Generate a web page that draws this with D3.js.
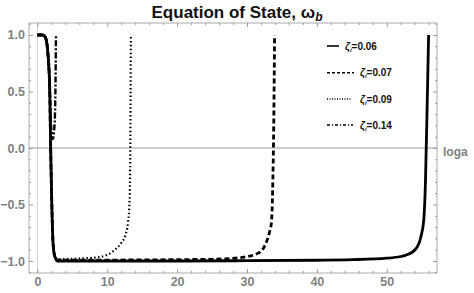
<!DOCTYPE html>
<html>
<head>
<meta charset="utf-8">
<title>Equation of State</title>
<script src="https://cdn.jsdelivr.net/npm/d3@7"></script>
<style>
  body { margin: 0; background: #fff; }
  .tick text { font-family: "Liberation Sans", Arial, sans-serif; font-weight: bold; font-size: 12.5px; fill: #808080; }
  .tick line { stroke: #999; }
</style>
</head>
<body>
<script>
var width = 474, height = 293;
var pLeft = 29, pRight = 437, pTop = 23, pBottom = 273;

// log a  vs  omega_b
var x006 = [0, 0.8, 1.2, 1.5, 1.76, 1.9, 2.05, 2.26, 2.5, 2.9, 4, 10, 20, 30, 40, 45, 50, 52, 52.8, 54.2, 54.9, 55.3, 55.55, 55.8, 56.0];
var w006 = [1, 1, 0.97, 0.84, 0.54, 0, -0.46, -0.86, -0.96, -1, -1, -1, -1, -0.997, -0.993, -0.988, -0.975, -0.96, -0.947, -0.89, -0.785, -0.64, -0.3, 0.4, 1.0];

var x007 = [0, 0.8, 1.2, 1.5, 1.76, 1.9, 2.05, 2.26, 2.5, 2.9, 4, 10, 15, 20, 25.6, 29.4, 31.6, 32.5, 33.2, 33.5, 33.7, 33.85, 33.95];
var w007 = [1, 1, 0.97, 0.84, 0.54, 0, -0.46, -0.86, -0.96, -0.99, -0.993, -0.992, -0.99, -0.988, -0.983, -0.967, -0.93, -0.87, -0.75, -0.66, -0.3, 0.3, 1.0];

var x009 = [0, 0.8, 1.2, 1.5, 1.76, 1.9, 2.05, 2.26, 2.5, 2.9, 4, 6, 8.9, 10, 11.1, 12, 12.6, 12.97, 13.2, 13.3, 13.38];
var w009 = [1, 1, 0.97, 0.84, 0.54, 0, -0.46, -0.86, -0.95, -0.985, -0.983, -0.978, -0.965, -0.945, -0.9, -0.84, -0.77, -0.66, -0.46, 0, 1.0];

var x014 = [0, 0.8, 1.2, 1.5, 1.76, 1.95, 2.2, 2.45, 2.58, 2.66];
var w014 = [1, 1, 0.97, 0.84, 0.54, 0.2, 0.08, 0.2, 0.5, 1.0];

var labels = ["0.06", "0.07", "0.09", "0.14"];
var xTicks = [0, 10, 20, 30, 40, 50];
var yTicks = [-1.0, -0.5, 0.0, 0.5, 1.0];

var series = [
  {xs: x006, ys: w006, dash: null, w: 2.8, legLen: 12, textX: 345},
  {xs: x007, ys: w007, dash: "5,3", w: 2.8, legLen: 27, textX: 360},
  {xs: x009, ys: w009, dash: "1.5,2.4", w: 2.2, legLen: 24, textX: 360},
  {xs: x014, ys: w014, dash: "6,2,2,2", w: 2.4, legLen: 26, textX: 360}
];

var svg = d3.select("body").append("svg").attr("width", width).attr("height", height);

var x = d3.scaleLinear().domain([-1.2, 57.2]).range([pLeft, pRight]);
var y = d3.scaleLinear().domain([-1.106, 1.106]).range([pBottom, pTop]);

// grid-ish axes lines
svg.append("line").attr("x1", x(0)).attr("x2", x(0)).attr("y1", pTop).attr("y2", pBottom)
   .attr("stroke", "#d0d0d0").attr("stroke-width", 1);
svg.append("line").attr("x1", pLeft).attr("x2", pRight).attr("y1", y(0)).attr("y2", y(0))
   .attr("stroke", "#999").attr("stroke-width", 1);

// frame
svg.append("rect").attr("x", pLeft).attr("y", pTop).attr("width", pRight - pLeft).attr("height", pBottom - pTop)
   .attr("fill", "none").attr("stroke", "#aaa").attr("stroke-width", 1);

var xMinor = d3.range(0, 57, 2).filter(function(d){ return d % 10 != 0; });
var yMinor = d3.range(-11, 12).map(function(d){ return d / 10; }).filter(function(d){ return Math.round(d*10) % 5 != 0; });

function addAxis(gen, tr, vals, size, fmt) {
  var g = svg.append("g").attr("transform", tr)
    .call(gen.tickValues(vals).tickSize(size).tickPadding(4).tickFormat(fmt));
  g.select(".domain").remove();
  return g;
}
addAxis(d3.axisBottom(x), "translate(0," + pBottom + ")", xTicks, -4, d3.format("d"));
addAxis(d3.axisBottom(x), "translate(0," + pBottom + ")", xMinor, -2, "");
addAxis(d3.axisTop(x), "translate(0," + pTop + ")", xTicks, -4, "");
addAxis(d3.axisTop(x), "translate(0," + pTop + ")", xMinor, -2, "");
addAxis(d3.axisLeft(y), "translate(" + pLeft + ",0)", yTicks, -4, d3.format(".1f")).selectAll("text").text(function(d){ return d3.format(".1f")(d).replace("-", "\u2212"); });
addAxis(d3.axisLeft(y), "translate(" + pLeft + ",0)", yMinor, -2, "");
addAxis(d3.axisRight(y), "translate(" + pRight + ",0)", yTicks, -4, "");
addAxis(d3.axisRight(y), "translate(" + pRight + ",0)", yMinor, -2, "");

svg.append("clipPath").attr("id", "clip").append("rect")
   .attr("x", pLeft).attr("y", pTop).attr("width", pRight - pLeft).attr("height", pBottom - pTop);

var line = d3.line().curve(d3.curveMonotoneX)
  .x(function(d){ return x(d[0]); }).y(function(d){ return y(d[1]); });

var plot = svg.append("g").attr("clip-path", "url(#clip)");
series.slice().reverse().forEach(function(s){
  plot.append("path")
    .datum(d3.zip(s.xs, s.ys))
    .attr("d", line)
    .attr("fill", "none").attr("stroke", "#000")
    .attr("stroke-width", s.w)
    .attr("stroke-dasharray", s.dash);
});

// legend
var legY = [46, 72.7, 99, 125];
series.forEach(function(s, i){
  svg.append("line").attr("x1", 327).attr("x2", 327 + s.legLen).attr("y1", legY[i]).attr("y2", legY[i])
     .attr("stroke", "#000").attr("stroke-width", i == 0 ? 1.6 : 1.4)
     .attr("stroke-dasharray", i == 0 ? null : (i == 1 ? "3,2" : (i == 2 ? "1,1.5" : "3,2,1,2")));
  var t = svg.append("text").attr("x", s.textX).attr("y", legY[i] + 3.5)
     .style("font-family", "Liberation Sans, Arial, sans-serif").style("font-weight", "bold")
     .style("font-size", "10px").attr("fill", "#111");
  t.append("tspan").style("font-style", "italic").text("\u03b6");
  t.append("tspan").attr("dy", 2).style("font-size", "6px").style("font-style", "italic").text("i");
  t.append("tspan").attr("dy", -2).text("=" + labels[i]);
});

// axis label
svg.append("text").attr("x", 443).attr("y", 156).text("loga")
   .style("font-family", "Liberation Sans, Arial, sans-serif").style("font-weight", "bold")
   .style("font-size", "12px").attr("fill", "#808080");

// title
var title = svg.append("text").attr("x", 237).attr("y", 18).attr("text-anchor", "middle")
   .style("font-family", "Liberation Sans, Arial, sans-serif").style("font-weight", "bold")
   .style("font-size", "17px").attr("fill", "#111");
title.append("tspan").text("Equation of State, \u03c9");
title.append("tspan").attr("dy", 3).style("font-style", "italic").style("font-size", "12px").text("b");
</script>
</body>
</html>
